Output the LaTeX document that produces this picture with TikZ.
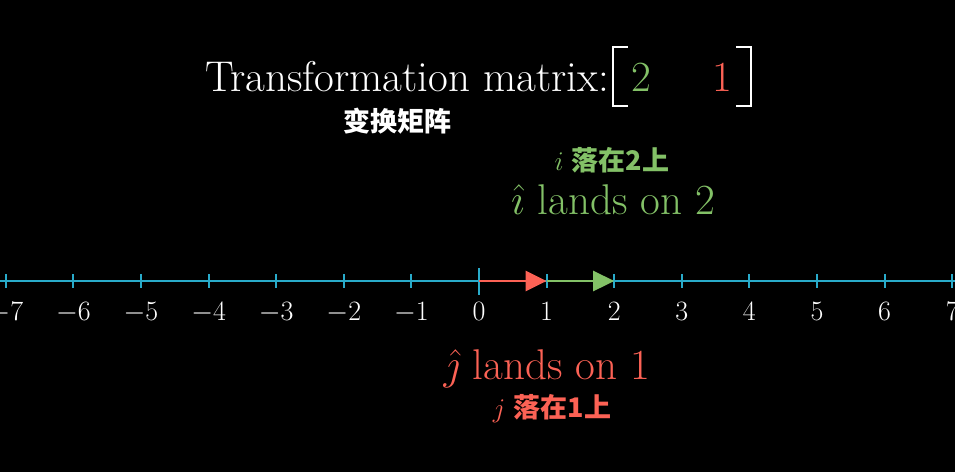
\documentclass[tikz,border=0pt]{standalone}
\usepackage{fix-cm}
\usepackage{fontspec}
\newfontfamily\cjk{Noto Sans CJK SC}
\usetikzlibrary{arrows.meta}
\definecolor{mgreen}{HTML}{83C167}
\definecolor{mred}{HTML}{FC6255}
\definecolor{mblue}{HTML}{29ABCA}
\tikzset{
  big/.style={font=\fontsize{43}{50}\selectfont, inner sep=0pt},
  entry/.style={font=\fontsize{43}{50}\selectfont, inner sep=0pt, anchor=base},
  cjklab/.style={font=\fontsize{27}{32}\selectfont, inner sep=0pt},
  numlab/.style={font=\fontsize{28}{33}\selectfont, text=white, inner sep=0pt, anchor=base},
  axis/.style={draw=mblue, line width=2.8pt},
  tickmark/.style={draw=mblue, line width=2pt},
  vec/.style={line width=2.6pt, -{Triangle[length=21pt,width=20pt]}},
  bracket/.style={draw=white, line width=2.8pt, line cap=rect},
}
\begin{document}
\begin{tikzpicture}[x=1pt,y=-1pt]
\fill[black] (0,0) rectangle (955,472);
\useasboundingbox (0,0) rectangle (955,472);

% title
\node[big, text=white, anchor=base west] (title) at (205,91) {Transformation matrix:};
\node[entry, text=mgreen] (m1) at (641,91) {2};
\node[entry, text=mred] (m2) at (722,91) {1};
\draw[bracket] (627,47) -- (613,47) -- (613,106) -- (627,106);
\draw[bracket] (737,47) -- (751,47) -- (751,106) -- (737,106);
\node[cjklab, text=white] (tcn) at (397.5,121.5) {\cjk\bfseries 变换矩阵};

% i hat labels
\node[cjklab, text=mgreen] (icn) at (612,160) {$i$ {\cjk\bfseries 落在2上}};
\node[big, text=mgreen, anchor=base] (ien) at (613,214) {$\hat{\imath}$ lands on 2};

% number line
\coordinate (L) at (0,281);
\coordinate (R) at (955,281);
\draw[axis] (L) -- (R);
\foreach \k in {-7,...,7}{
  \draw[tickmark] (479+67.6*\k,274) -- (479+67.6*\k,288);
  \node[numlab] (n\k) at (479+67.6*\k,320) {$\k$};
}
\draw[tickmark] (479,268) -- (479,295);

% vectors
\coordinate (o) at (479,281);
\coordinate (one) at (546.6,281);
\coordinate (two) at (614.2,281);
\draw[vec, mred] (o) -- (one);
\draw[vec, mgreen] (one) -- (two);

% j hat labels
\node[big, text=mred, anchor=base] (jen) at (547,379) {$\hat{\jmath}$ lands on 1};
\node[cjklab, text=mred] (jcn) at (552,409) {$j$ {\cjk\bfseries 落在1上}};
\end{tikzpicture}
\end{document}
